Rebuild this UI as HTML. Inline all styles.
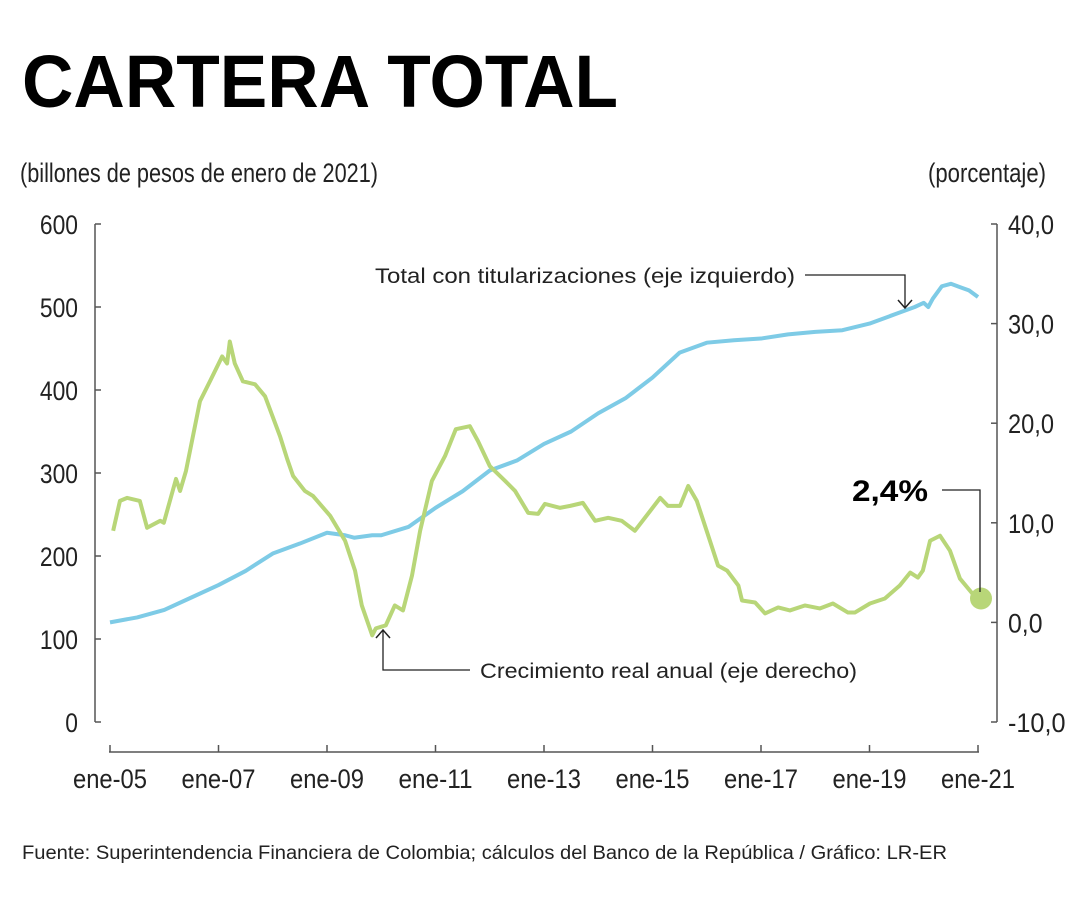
<!DOCTYPE html>
<html><head><meta charset="utf-8"><style>
html,body{margin:0;padding:0;background:#fff;width:1080px;height:900px;overflow:hidden}
svg{display:block;font-family:"Liberation Sans",sans-serif}
</style></head><body>
<svg id="chart" width="1080" height="900">
<text x="22" y="107" font-size="74" font-weight="bold" textLength="596" lengthAdjust="spacingAndGlyphs">CARTERA TOTAL</text>
<text x="20" y="182" font-size="27" fill="#222" textLength="358" lengthAdjust="spacingAndGlyphs">(billones de pesos de enero de 2021)</text>
<text x="928" y="182" font-size="27" fill="#222" textLength="118" lengthAdjust="spacingAndGlyphs">(porcentaje)</text>
<g id="axes"></g>
<g id="series"></g>
<g>
<text x="375" y="283" font-size="21" fill="#222" textLength="420" lengthAdjust="spacingAndGlyphs">Total con titularizaciones  (eje izquierdo)</text>
<polyline points="805,275 905,275 905,308" fill="none" stroke="#222" stroke-width="1.3"/>
<polyline points="898,300 905,308 912,300" fill="none" stroke="#222" stroke-width="1.5"/>
</g>
<g>
<text x="480" y="678" font-size="21" fill="#222" textLength="377" lengthAdjust="spacingAndGlyphs">Crecimiento real anual (eje derecho)</text>
<polyline points="383,630 383,670 470,670" fill="none" stroke="#222" stroke-width="1.3"/>
<polyline points="376,638 383,630 390,638" fill="none" stroke="#222" stroke-width="1.5"/>
</g>
<g>
<text x="852" y="501" font-size="30" font-weight="bold" textLength="76" lengthAdjust="spacingAndGlyphs">2,4%</text>
<polyline points="942,490 980,490 980,592" fill="none" stroke="#222" stroke-width="1.3"/>
</g>
<text x="22" y="859" font-size="19" fill="#222" textLength="925" lengthAdjust="spacingAndGlyphs">Fuente: Superintendencia Financiera de Colombia; cálculos del Banco de la República / Gráfico: LR-ER</text>
</svg>
<script>
const leftTicks=[0,100,200,300,400,500,600];
const rightTicks=[-10,0,10,20,30,40];
const rightTickLabels=["-10,0","0,0","10,0","20,0","30,0","40,0"];
const xTickMonths=[0,24,48,72,96,120,144,168,192];
const xTickLabels=["ene-05","ene-07","ene-09","ene-11","ene-13","ene-15","ene-17","ene-19","ene-21"];
const carteraMonths=[0,6,12,18,24,30,36,42,48,52,54,58,60,66,72,78,84,90,96,102,108,114,120,126,132,138,144,150,156,162,168,174,178,180,181,182,184,186,188,190,192];
const carteraValues=[120,126,135,150,165,182,203,215,228,225,222,225,225,235,258,278,303,315,335,350,372,390,415,445,457,460,462,467,470,472,480,492,500,505,500,510,525,528,524,520,512];
const growthMonths=[0.7,2.2,3.8,6.6,8.2,11.1,11.9,14.6,15.5,16.8,19.9,22.1,24.8,25.9,26.5,27.6,29.4,32.1,34.3,37.6,39.2,40.5,43.1,44.9,48.7,52,54.2,55.7,58,58.8,61,63,64.8,66.8,68.6,71.2,74.1,76.5,79.6,81.4,84,87.4,89.6,92.5,94.7,96.2,99.5,101.8,104.6,107.3,110.2,113.2,116.1,119.5,121.7,123.4,126.1,127.9,129.8,132.7,134.5,136.5,139,139.8,142.7,144.9,147.8,150.4,153.7,157,159.9,163.2,164.8,168.1,171.4,174.7,177,178.7,179.8,181.4,183.6,185.8,188,191.3,192];
const growthValues=[9.2,12.2,12.5,12.2,9.5,10.2,10.0,14.4,13.2,15.2,22.2,24.2,26.7,26.0,28.2,26.0,24.2,23.9,22.7,18.7,16.4,14.7,13.2,12.7,10.7,8.2,5.2,1.7,-1.3,-0.6,-0.3,1.7,1.2,4.7,9.2,14.2,16.7,19.4,19.7,18.2,15.7,14.2,13.2,11.0,10.9,11.9,11.5,11.7,12.0,10.2,10.5,10.2,9.2,11.2,12.5,11.7,11.7,13.7,12.2,8.2,5.7,5.2,3.7,2.2,2.0,0.9,1.5,1.2,1.7,1.4,1.9,1.0,1.0,1.9,2.4,3.7,5.0,4.5,5.2,8.2,8.7,7.2,4.4,2.6,2.4];
const NS="http://www.w3.org/2000/svg";
const xScale=m=>110+m*(978-110)/192;
const yLeft=v=>722-v*0.83;
const yRight=v=>622.4-v*9.96;
function mk(tag,attrs,parent){const e=document.createElementNS(NS,tag);for(const k in attrs)e.setAttribute(k,attrs[k]);parent.appendChild(e);return e;}
const ax=document.getElementById('axes');
const la=mk('line',{x1:95,y1:224,x2:95,y2:722,stroke:'#555','stroke-width':1.5},ax);


leftTicks.forEach(v=>{const y=yLeft(v);
 mk('line',{x1:95,y1:y,x2:101,y2:y,stroke:'#555','stroke-width':1.5},ax);
 const s=String(v);
 const t=mk('text',{x:78,y:y+10,'font-size':27,'text-anchor':'end',fill:'#222',textLength:s.length*12.7,lengthAdjust:'spacingAndGlyphs'},ax);t.textContent=s;
 
 });
const ra=mk('line',{x1:997,y1:224,x2:997,y2:722,stroke:'#555','stroke-width':1.5},ax);


rightTicks.forEach((v,i)=>{const y=yRight(v);
 mk('line',{x1:991,y1:y,x2:997,y2:y,stroke:'#555','stroke-width':1.5},ax);
 const t=mk('text',{x:1008,y:y+10,'font-size':27,fill:'#222',textLength:rightTickLabels[i].length*11.5,lengthAdjust:'spacingAndGlyphs'},ax);t.textContent=rightTickLabels[i];
 
 });
const xa=mk('line',{x1:109,y1:752,x2:979,y2:752,stroke:'#555','stroke-width':1.5},ax);


xTickMonths.forEach((m,i)=>{const x=xScale(m);
 mk('line',{x1:x,y1:745,x2:x,y2:752,stroke:'#555','stroke-width':1.5},ax);
 const t=mk('text',{x:x,y:788,'font-size':27,'text-anchor':'middle',fill:'#222',textLength:74,lengthAdjust:'spacingAndGlyphs'},ax);t.textContent=xTickLabels[i];
 
 });
const sg=document.getElementById('series');
const bp=mk('polyline',{points:carteraMonths.map((m,i)=>xScale(m)+','+yLeft(carteraValues[i])).join(' '),fill:'none',stroke:'#7ecbe6','stroke-width':4,'stroke-linejoin':'round'},sg);


const gp=mk('polyline',{points:growthMonths.map((m,i)=>xScale(m)+','+yRight(growthValues[i])).join(' '),fill:'none',stroke:'#b8d678','stroke-width':4,'stroke-linejoin':'round'},sg);


const li=growthMonths.length-1;
const dot=mk('circle',{cx:xScale(growthMonths[li])+3,cy:yRight(growthValues[li]),r:11,fill:'#b8d678'},sg);


</script>
</body></html>
